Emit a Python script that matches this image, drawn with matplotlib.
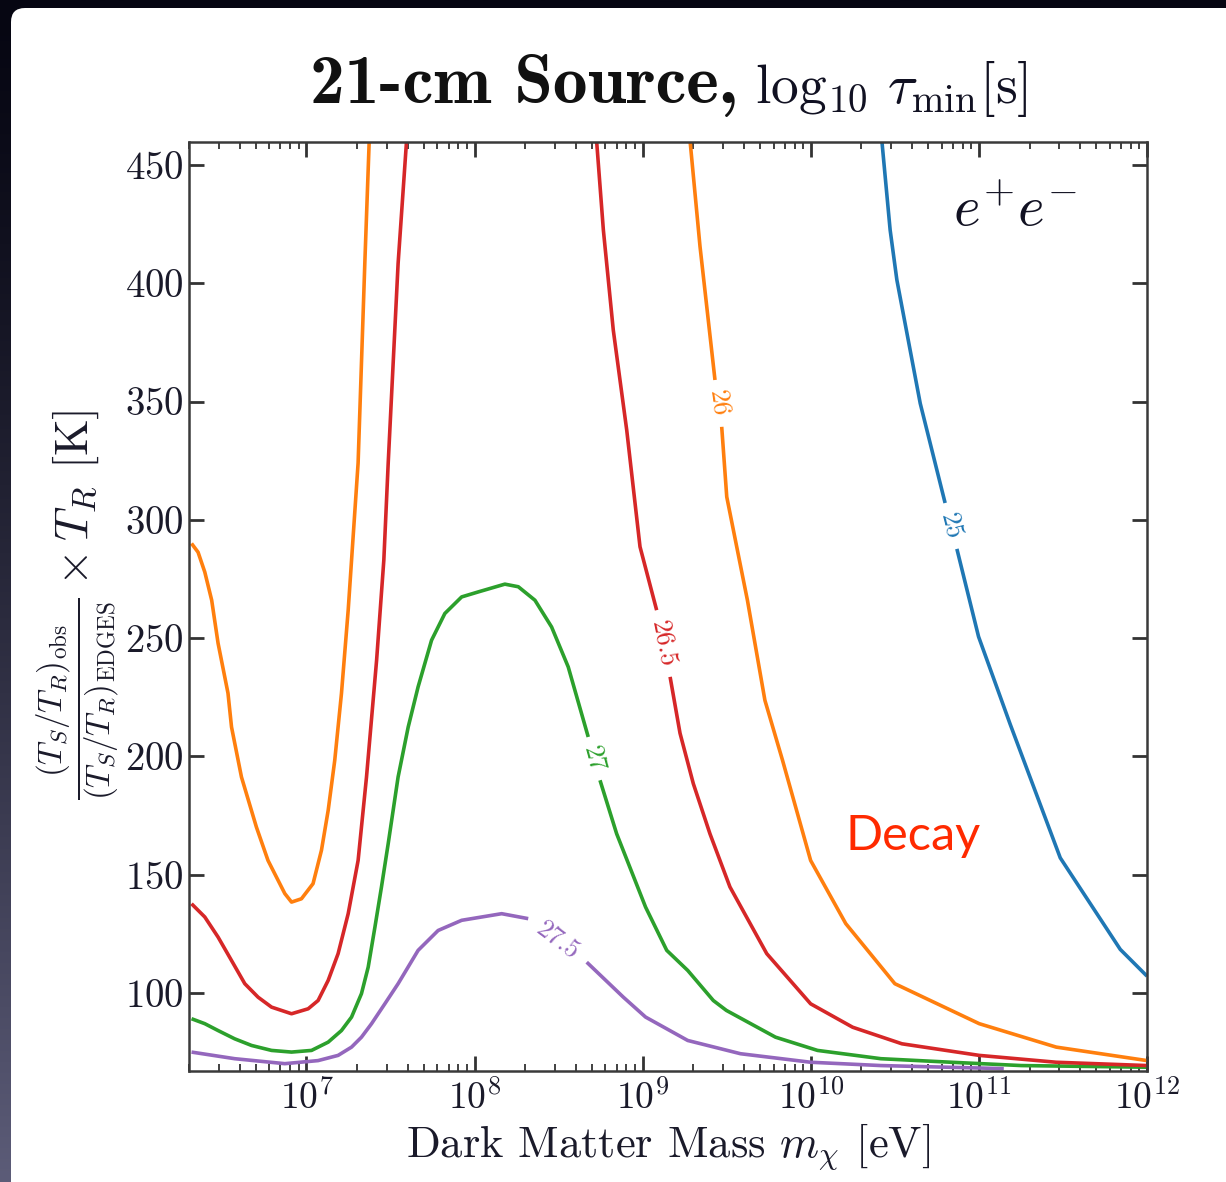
import os
import numpy as np
import matplotlib
matplotlib.use('Agg')
import matplotlib.pyplot as plt
from matplotlib.font_manager import FontProperties
from matplotlib.patches import FancyBboxPatch
from matplotlib.ticker import LogLocator, NullFormatter, NullLocator, FixedLocator

plt.rcParams['font.family'] = ['cmr10']
plt.rcParams['mathtext.fontset'] = 'cm'
plt.rcParams['axes.formatter.use_mathtext'] = True

# ---------------- data (x = log10 of mass in eV) ----------------
LEVEL_LABELS = ['25', '26', '26.5', '27', '27.5']
COLORS = {'25': '#1f77b4', '26': '#ff7f0e', '26.5': '#d62728', '27': '#2ca02c', '27.5': '#9467bd'}

orange_left_lx = [6.316, 6.355, 6.395, 6.436, 6.474, 6.533, 6.554, 6.613, 6.702, 6.771, 6.871, 6.911, 6.970,
                  7.039, 7.089, 7.129, 7.168, 7.208, 7.248, 7.268, 7.307, 7.347, 7.373]
orange_left_y = [290.0, 286.3, 277.9, 266.0, 247.8, 226.7, 212.4, 191.3, 170.1, 156.0, 142.0, 138.4, 139.8,
                 146.2, 160.3, 177.2, 198.3, 226.6, 261.8, 282.9, 324.0, 408.6, 460.0]

red_left_lx = [6.316, 6.395, 6.474, 6.554, 6.633, 6.712, 6.792, 6.911, 7.010, 7.069, 7.129, 7.188, 7.248,
               7.307, 7.357, 7.417, 7.460, 7.486, 7.545, 7.595]
red_left_y = [137.7, 132.1, 123.6, 113.7, 103.9, 98.2, 94.0, 91.2, 93.3, 96.8, 105.3, 116.6, 133.5,
              156.0, 191.3, 240.6, 282.9, 323.9, 408.4, 460.0]

green_a_lx = [6.316, 6.395, 6.474, 6.573, 6.673, 6.792, 6.911, 7.030, 7.129, 7.208, 7.268, 7.327, 7.367,
              7.407, 7.446, 7.486, 7.545, 7.605, 7.664, 7.744, 7.823, 7.923, 8.021, 8.180, 8.260, 8.359,
              8.458, 8.557, 8.676]
green_a_y = [89.1, 87.0, 84.1, 80.6, 77.8, 75.7, 75.0, 75.7, 79.2, 84.1, 89.8, 99.7, 110.9,
             127.8, 144.8, 163.1, 191.3, 212.4, 229.4, 249.1, 260.4, 267.4, 269.5, 272.8, 271.7, 266.0,
             254.7, 237.8, 208.2]
green_b_lx = [8.746, 8.845, 9.017, 9.143, 9.268, 9.420, 9.498, 9.790, 10.040, 10.417, 10.835, 11.252, 12.0]
green_b_y = [189.9, 167.3, 136.3, 118.0, 109.5, 96.8, 92.6, 81.3, 75.7, 72.2, 70.7, 69.3, 68.6]

red_right_a_lx = [8.726, 8.766, 8.825, 8.905, 8.984, 9.083]
red_right_a_y = [460.0, 422.5, 380.2, 337.9, 288.6, 261.8]
red_right_b_lx = [9.163, 9.222, 9.301, 9.400, 9.519, 9.738, 9.999, 10.249, 10.542, 11.002, 11.460, 12.0]
red_right_b_y = [233.6, 209.8, 188.5, 167.3, 144.8, 116.6, 95.4, 85.5, 78.5, 73.6, 70.7, 69.3]

orange_right_a_lx = [9.282, 9.341, 9.430]
orange_right_a_y = [460.0, 415.5, 359.1]
orange_right_b_lx = [9.470, 9.500, 9.579, 9.623, 9.727, 9.832, 9.999, 10.208, 10.500, 11.002, 11.460, 12.0]
orange_right_b_y = [339.3, 309.7, 281.6, 266.0, 223.7, 198.3, 156.0, 129.3, 103.9, 87.0, 77.1, 71.4]

blue_a_lx = [10.423, 10.472, 10.512, 10.651, 10.799]
blue_a_y = [460.0, 422.5, 401.4, 349.2, 307.1]
blue_b_lx = [10.869, 10.998, 11.186, 11.484, 11.841, 12.0]
blue_b_y = [287.7, 250.6, 213.6, 157.1, 118.4, 107.1]

purple_a_lx = [6.316, 6.573, 6.871, 7.069, 7.188, 7.268, 7.327, 7.387, 7.466, 7.545, 7.664, 7.783, 7.923,
               8.161, 8.319]
purple_a_y = [75.0, 72.2, 70.1, 71.4, 73.6, 77.1, 81.3, 87.0, 95.4, 103.9, 118.0, 126.4, 130.7,
              133.5, 131.4]
purple_b_lx = [8.667, 8.885, 9.017, 9.268, 9.582, 9.999, 10.417, 11.148]
purple_b_y = [113.0, 98.2, 89.8, 79.9, 74.3, 70.7, 69.3, 68.0]

Y_TICKS = [100, 150, 200, 250, 300, 350, 400, 450]
X_LIM = (2e6, 1e12)
Y_LIM = (67.0, 459.7)

# ---------------- figure ----------------
W, H = 1226, 1182
fig = plt.figure(figsize=(W / 100, H / 100), dpi=100)

bg = fig.add_axes([0, 0, 1, 1], zorder=-10)
bg.set_xlim(0, W)
bg.set_ylim(0, H)
bg.axis('off')
g = np.linspace(0, 1, 256)[:, None, None]
top_c = np.array([6, 6, 18]) / 255.0
bot_c = np.array([92, 92, 120]) / 255.0
img = top_c + (bot_c - top_c) * g ** 1.3
bg.imshow(img, extent=[0, W, 0, H], aspect='auto', origin='upper', interpolation='bilinear')
bg.add_patch(FancyBboxPatch((11, -40), W + 40, H - 8 + 40,
                            boxstyle='round,pad=0,rounding_size=14',
                            facecolor='white', edgecolor='none'))

ax = fig.add_axes([189 / W, 1 - 1071 / H, (1147 - 189) / W, (1071 - 142) / H])
ax.set_xscale('log')
ax.set_xlim(*X_LIM)
ax.set_ylim(*Y_LIM)

LW = 2.6


def plot_seg(lx, y, col):
    ax.plot(10 ** np.asarray(lx), y, color=col, lw=LW, solid_capstyle='butt', solid_joinstyle='round')


plot_seg(orange_left_lx, orange_left_y, COLORS['26'])
plot_seg(red_left_lx, red_left_y, COLORS['26.5'])
plot_seg(green_a_lx, green_a_y, COLORS['27'])
plot_seg(green_b_lx, green_b_y, COLORS['27'])
plot_seg(red_right_a_lx, red_right_a_y, COLORS['26.5'])
plot_seg(red_right_b_lx, red_right_b_y, COLORS['26.5'])
plot_seg(orange_right_a_lx, orange_right_a_y, COLORS['26'])
plot_seg(orange_right_b_lx, orange_right_b_y, COLORS['26'])
plot_seg(blue_a_lx, blue_a_y, COLORS['25'])
plot_seg(blue_b_lx, blue_b_y, COLORS['25'])
plot_seg(purple_a_lx, purple_a_y, COLORS['27.5'])
plot_seg(purple_b_lx, purple_b_y, COLORS['27.5'])


def add_label(lxa, ya, lxb, yb, text):
    p1 = ax.transData.transform((10 ** lxa[-1], ya[-1]))
    p2 = ax.transData.transform((10 ** lxb[0], yb[0]))
    mid = (p1 + p2) / 2
    ang = np.degrees(np.arctan2(p2[1] - p1[1], p2[0] - p1[0]))
    if ang < -90:
        ang += 180
    if ang > 90:
        ang -= 180
    xy = ax.transData.inverted().transform(mid)
    ax.text(xy[0], xy[1], text, rotation=ang, rotation_mode='anchor', ha='center', va='center',
            color=COLORS[text], fontsize=19)


add_label(blue_a_lx, blue_a_y, blue_b_lx, blue_b_y, '25')
add_label(orange_right_a_lx, orange_right_a_y, orange_right_b_lx, orange_right_b_y, '26')
add_label(red_right_a_lx, red_right_a_y, red_right_b_lx, red_right_b_y, '26.5')
add_label(green_a_lx, green_a_y, green_b_lx, green_b_y, '27')
add_label(purple_a_lx, purple_a_y, purple_b_lx, purple_b_y, '27.5')

# axes styling
for s in ax.spines.values():
    s.set_linewidth(1.8)
    s.set_color('#3a3a3a')
ax.yaxis.set_major_locator(FixedLocator(Y_TICKS))
ax.yaxis.set_minor_locator(NullLocator())
ax.xaxis.set_major_locator(LogLocator(base=10, numticks=20))
ax.xaxis.set_minor_locator(LogLocator(base=10, subs=np.arange(2, 10), numticks=100))
ax.xaxis.set_minor_formatter(NullFormatter())
ax.tick_params(which='major', direction='in', length=11, width=2.0, top=True, right=True,
               color='#333333', labelcolor='#1a1a2a')
ax.tick_params(axis='y', which='major', labelsize=28, pad=4)
ax.tick_params(axis='x', which='major', labelsize=27, pad=6)
ax.tick_params(which='minor', direction='in', length=5, width=1.3, top=True, right=True, color='#333333')

# texts
bold = FontProperties(fname=os.path.join(matplotlib.get_data_path(), 'fonts', 'ttf', 'cmb10.ttf'), size=50)
fig.text(738 / W, 1 - 103 / H, '21-cm Source,', fontproperties=bold, ha='right', va='baseline', color='#111111')
fig.text(755 / W, 1 - 103 / H, r'$\log_{\mathrm{10}}\,\tau_{\mathrm{min}}$[s]', fontsize=40,
         ha='left', va='baseline', color='#111122')

fig.text(668 / W, 1 - 1147 / H, r'Dark Matter Mass $m_\chi$ [eV]', fontsize=32,
         ha='center', va='center', color='#1a1a2a')
fig.text(78 / W, 1 - 605 / H,
         r'$\frac{(T_S/T_R)_{\mathrm{obs}}}{(T_S/T_R)_{\mathrm{EDGES}}}\times T_R$ [K]',
         fontsize=34, rotation=90, ha='center', va='center', color='#1a1a2a')

fig.text(953 / W, 1 - 226 / H, r'$e^{+}e^{-}$', fontsize=41, ha='left', va='baseline', color='#111122')
fig.text(845 / W, 1 - 850 / H, 'Decay', family='Lato', fontsize=35, color='#ff2a00',
         ha='left', va='baseline')

fig.savefig('out.png', dpi=100)
